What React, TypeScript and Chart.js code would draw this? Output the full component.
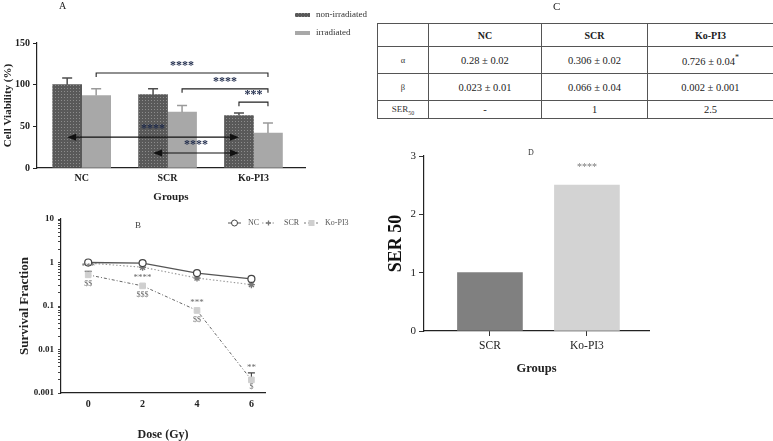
import React, { useEffect, useRef } from 'react';
import { Chart, registerables } from 'chart.js';

Chart.register(...registerables);

const FONT = "'Liberation Serif', 'Times New Roman', serif";

// ---------- Panel A : cell viability ----------
const groupsA = ['NC', 'SCR', 'Ko-PI3'];
const nonIrradiated = [100, 88, 63];
const nonIrradiatedSD = [8, 7, 3];
const irradiated = [87, 67, 42];
const irradiatedSD = [8, 8, 12];
const viabilityTicks = [0, 50, 100, 150];
const legendA = ['non-irradiated', 'irradiated'];

// significance brackets: [dataset, category] endpoints, level in %
const bracketsA = [
  { from: [1, 0], to: [1, 2], level: 114, label: '****' },
  { from: [1, 1], to: [1, 2], level: 95, label: '****' },
  { from: [0, 2], to: [1, 2], level: 79, label: '***' },
];
const arrowsA = [
  { from: [0, 0], to: [0, 2], level: 37, label: '****' },
  { from: [0, 1], to: [0, 2], level: 18, label: '****' },
];

// ---------- Panel B : survival fraction ----------
const doses = [0, 2, 4, 6];
const sfNC = [1.0, 0.97, 0.57, 0.42];
const sfSCR = [0.97, 0.78, 0.44, 0.31];
const sfKo = [0.52, 0.29, 0.079, 0.002];
const sfKoUpper = [0.63, null, null, 0.0029];
const koStars = ['***', '****', '***', '**'];
const koDollars = ['$$', '$$$', '$$', '$'];
const survivalTicks = [0.001, 0.01, 0.1, 1, 10];
const survivalTickLabels = ['0.001', '0.01', '0.1', '1', '10'];
const legendB = ['NC', 'SCR', 'Ko-PI3'];

// ---------- Panel C : table ----------
const tableHeaders = ['NC', 'SCR', 'Ko-PI3'];
const alphaValues = ['0.28 ± 0.02', '0.306 ± 0.02', '0.726 ± 0.04'];
const betaValues = ['0.023 ± 0.01', '0.066 ± 0.04', '0.002 ± 0.001'];
const serTableValues = ['-', '1', '2.5'];

// ---------- Panel D : SER 50 ----------
const serGroups = ['SCR', 'Ko-PI3'];
const ser50 = [1, 2.5];
const serTicks = [0, 1, 2, 3];
const serStars = ['', '****'];

function makePattern(ctx: CanvasRenderingContext2D) {
  const pc = document.createElement('canvas');
  pc.width = 3;
  pc.height = 3;
  const g = pc.getContext('2d')!;
  g.fillStyle = '#595959';
  g.fillRect(0, 0, 3, 3);
  g.fillStyle = '#8c8c8c';
  g.fillRect(1, 1, 1, 1);
  return ctx.createPattern(pc, 'repeat')!;
}

export default function App() {
  const refA = useRef<HTMLCanvasElement>(null);
  const refB = useRef<HTMLCanvasElement>(null);
  const refD = useRef<HTMLCanvasElement>(null);

  useEffect(() => {
    const charts: Chart[] = [];
    const ctxA = refA.current!.getContext('2d')!;
    const pattern = makePattern(ctxA);

    // ----- Panel A -----
    const annotA = {
      id: 'annotA',
      afterDatasetsDraw(chart: any) {
        const { ctx } = chart;
        const y = chart.scales.y;
        const bar = (d: number, i: number) => chart.getDatasetMeta(d).data[i];
        ctx.save();
        const series: [number[], number[], string][] = [
          [nonIrradiated, nonIrradiatedSD, '#4d4d4d'],
          [irradiated, irradiatedSD, '#9a9a9a'],
        ];
        series.forEach(([m, sd, c], d) => {
          m.forEach((v, i) => {
            const el = bar(d, i);
            const yt = y.getPixelForValue(v + sd[i]);
            ctx.strokeStyle = c;
            ctx.lineWidth = 1.5;
            ctx.beginPath();
            ctx.moveTo(el.x, el.y);
            ctx.lineTo(el.x, yt);
            ctx.moveTo(el.x - 5, yt);
            ctx.lineTo(el.x + 5, yt);
            ctx.stroke();
          });
        });
        ctx.textAlign = 'center';
        ctx.textBaseline = 'middle';
        bracketsA.forEach((b) => {
          const x1 = bar(b.from[0], b.from[1]).x;
          const x2 = bar(b.to[0], b.to[1]).x;
          const yy = y.getPixelForValue(b.level);
          ctx.strokeStyle = '#222';
          ctx.lineWidth = 1.1;
          ctx.beginPath();
          ctx.moveTo(x1, yy + 4);
          ctx.lineTo(x1, yy);
          ctx.lineTo(x2, yy);
          ctx.lineTo(x2, yy + 4);
          ctx.stroke();
          ctx.fillStyle = '#1e2a4a';
          ctx.font = `bold 12px ${FONT}`;
          ctx.fillText(b.label, (x1 + x2) / 2, yy - 7);
        });
        arrowsA.forEach((a) => {
          const x1 = bar(a.from[0], a.from[1]).x;
          const x2 = bar(a.to[0], a.to[1]).x;
          const yy = y.getPixelForValue(a.level);
          ctx.strokeStyle = '#111';
          ctx.fillStyle = '#111';
          ctx.lineWidth = 1.2;
          ctx.beginPath();
          ctx.moveTo(x1 + 4, yy);
          ctx.lineTo(x2 - 4, yy);
          ctx.stroke();
          ctx.beginPath();
          ctx.moveTo(x1, yy);
          ctx.lineTo(x1 + 9, yy - 3.5);
          ctx.lineTo(x1 + 9, yy + 3.5);
          ctx.closePath();
          ctx.fill();
          ctx.beginPath();
          ctx.moveTo(x2, yy);
          ctx.lineTo(x2 - 9, yy - 3.5);
          ctx.lineTo(x2 - 9, yy + 3.5);
          ctx.closePath();
          ctx.fill();
          ctx.fillStyle = '#1e2a4a';
          ctx.font = `bold 12px ${FONT}`;
          ctx.fillText(a.label, (x1 + x2) / 2, yy - 8);
        });
        // legend
        const swatches = [pattern, '#a8a8a8'];
        legendA.forEach((t, i) => {
          const ly = 15 + i * 18;
          ctx.fillStyle = swatches[i];
          ctx.fillRect(295, ly - 2, 15, 4);
          ctx.fillStyle = '#333';
          ctx.font = `9px ${FONT}`;
          ctx.textAlign = 'left';
          ctx.fillText(t, 316, ly);
        });
        ctx.restore();
      },
    };

    charts.push(
      new Chart(refA.current!, {
        type: 'bar',
        data: {
          datasets: [
            {
              label: legendA[0],
              data: nonIrradiated.map((v, i) => ({ x: i, y: v })),
              backgroundColor: pattern,
              barThickness: 29,
            },
            {
              label: legendA[1],
              data: irradiated.map((v, i) => ({ x: i, y: v })),
              backgroundColor: '#a8a8a8',
              barThickness: 29,
            },
          ],
        },
        options: {
          responsive: false,
          animation: false,
          layout: { padding: { top: 43, right: 65, left: 0, bottom: 0 } },
          plugins: { legend: { display: false }, tooltip: { enabled: false } },
          scales: {
            x: {
              type: 'linear',
              offset: false,
              min: -0.52,
              max: 2.6,
              afterBuildTicks: (s: any) => {
                s.ticks = groupsA.map((_, i) => ({ value: i }));
              },
              afterFit: (s: any) => {
                s.height = 42;
              },
              grid: { display: false, drawTicks: false, offset: false },
              border: { display: true, color: '#222', width: 1.2 },
              ticks: {
                callback: (v: any) => groupsA[v],
                font: { family: FONT, size: 10, weight: 'bold' },
                color: '#222',
                padding: 4,
                maxRotation: 0,
                autoSkip: false,
              },
              title: {
                display: true,
                text: 'Groups',
                font: { family: FONT, size: 11, weight: 'bold' },
                color: '#222',
                padding: { top: 0, bottom: 6 },
              },
            },
            y: {
              min: 0,
              max: 150,
              afterBuildTicks: (s: any) => {
                s.ticks = viabilityTicks.map((v) => ({ value: v }));
              },
              afterFit: (s: any) => {
                s.width = 37;
              },
              grid: { drawOnChartArea: false, drawTicks: true, tickLength: 4, color: '#222' },
              border: { color: '#222', width: 1.2 },
              ticks: { font: { family: FONT, size: 10, weight: 'bold' }, color: '#222', padding: 3 },
              title: {
                display: true,
                text: 'Cell Viability (%)',
                font: { family: FONT, size: 11, weight: 'bold' },
                color: '#222',
                padding: { top: 2, bottom: 0 },
              },
            },
          },
        },
        plugins: [annotA],
      } as any)
    );

    // ----- Panel B -----
    const annotB = {
      id: 'annotB',
      beforeDatasetsDraw(chart: any) {
        const { ctx } = chart;
        const y = chart.scales.y;
        const meta = chart.getDatasetMeta(2);
        ctx.save();
        ctx.strokeStyle = '#444';
        ctx.lineWidth = 1.1;
        sfKoUpper.forEach((u, i) => {
          if (u == null) return;
          const p = meta.data[i];
          const yt = y.getPixelForValue(u);
          ctx.beginPath();
          ctx.moveTo(p.x, p.y);
          ctx.lineTo(p.x, yt);
          ctx.moveTo(p.x - 3.5, yt);
          ctx.lineTo(p.x + 3.5, yt);
          ctx.stroke();
        });
        ctx.restore();
      },
      afterDatasetsDraw(chart: any) {
        const { ctx } = chart;
        const meta = chart.getDatasetMeta(2);
        ctx.save();
        ctx.textAlign = 'center';
        ctx.textBaseline = 'middle';
        ctx.fillStyle = '#6a6a6a';
        meta.data.forEach((p: any, i: number) => {
          ctx.font = `9px ${FONT}`;
          ctx.fillText(koStars[i], p.x, p.y - (i === 3 ? 12 : 8));
          ctx.font = `8px ${FONT}`;
          ctx.fillText(koDollars[i], p.x, p.y + (i === 3 ? 7 : 9));
        });
        // legend
        const ly = 18;
        const items = [
          { x1: 228, x2: 241, text: 248 },
          { x1: 262, x2: 275, text: 284 },
          { x1: 304, x2: 319, text: 325 },
        ];
        items.forEach((it, i) => {
          const mx = (it.x1 + it.x2) / 2;
          ctx.lineWidth = 1;
          if (i === 0) {
            ctx.strokeStyle = '#555';
            ctx.setLineDash([]);
          } else if (i === 1) {
            ctx.strokeStyle = '#999';
            ctx.setLineDash([1.5, 2]);
          } else {
            ctx.strokeStyle = '#777';
            ctx.setLineDash([2, 2]);
          }
          ctx.beginPath();
          ctx.moveTo(it.x1, ly);
          ctx.lineTo(it.x2, ly);
          ctx.stroke();
          ctx.setLineDash([]);
          if (i === 0) {
            ctx.fillStyle = '#fff';
            ctx.strokeStyle = '#444';
            ctx.beginPath();
            ctx.arc(mx, ly, 3, 0, Math.PI * 2);
            ctx.fill();
            ctx.stroke();
          } else if (i === 1) {
            ctx.strokeStyle = '#777';
            ctx.lineWidth = 1.3;
            ctx.beginPath();
            ctx.moveTo(mx - 2.5, ly);
            ctx.lineTo(mx + 2.5, ly);
            ctx.moveTo(mx, ly - 2.5);
            ctx.lineTo(mx, ly + 2.5);
            ctx.stroke();
          } else {
            ctx.fillStyle = '#cfcfcf';
            ctx.fillRect(mx - 3, ly - 3, 6, 6);
          }
          ctx.fillStyle = '#555';
          ctx.font = `8px ${FONT}`;
          ctx.textAlign = 'left';
          ctx.fillText(legendB[i], it.text, ly);
        });
        ctx.restore();
      },
    };

    charts.push(
      new Chart(refB.current!, {
        type: 'line',
        data: {
          datasets: [
            {
              label: legendB[0],
              data: doses.map((d, i) => ({ x: d, y: sfNC[i] })),
              borderColor: '#555',
              borderWidth: 1.3,
              pointStyle: 'circle',
              pointRadius: 3.5,
              pointBackgroundColor: '#fff',
              pointBorderColor: '#444',
              pointBorderWidth: 1.2,
            },
            {
              label: legendB[1],
              data: doses.map((d, i) => ({ x: d, y: sfSCR[i] })),
              borderColor: '#9a9a9a',
              borderDash: [1.5, 2],
              borderWidth: 1.1,
              pointStyle: 'star',
              pointRadius: 3.5,
              pointBorderColor: '#777',
              pointBackgroundColor: '#777',
              pointBorderWidth: 1.4,
            },
            {
              label: legendB[2],
              data: doses.map((d, i) => ({ x: d, y: sfKo[i] })),
              borderColor: '#666',
              borderDash: [3, 2, 1, 2],
              borderWidth: 1,
              pointStyle: 'rect',
              pointRadius: 4,
              pointBackgroundColor: '#cfcfcf',
              pointBorderColor: '#cfcfcf',
            },
          ],
        },
        options: {
          responsive: false,
          animation: false,
          layout: { padding: { top: 14, right: 105, left: 0, bottom: 0 } },
          plugins: { legend: { display: false }, tooltip: { enabled: false } },
          scales: {
            x: {
              type: 'linear',
              min: -1,
              max: 6.5,
              afterBuildTicks: (s: any) => {
                s.ticks = doses.map((v) => ({ value: v }));
              },
              afterFit: (s: any) => {
                s.height = 48;
              },
              grid: { display: false, drawTicks: false },
              border: { display: true, color: '#222', width: 1.2 },
              ticks: {
                callback: (v: any) => String(v),
                font: { family: FONT, size: 10, weight: 'bold' },
                color: '#222',
                padding: 5,
                maxRotation: 0,
                autoSkip: false,
              },
              title: {
                display: true,
                text: 'Dose (Gy)',
                font: { family: FONT, size: 12, weight: 'bold', lineHeight: 1 },
                color: '#222',
                padding: { top: 0, bottom: 0 },
              },
            },
            y: {
              type: 'logarithmic',
              min: 0.001,
              max: 10,
              afterBuildTicks: (s: any) => {
                const t: { value: number }[] = [];
                for (let k = 0; k < survivalTicks.length - 1; k++) {
                  for (let m = 1; m <= 9; m++) t.push({ value: survivalTicks[k] * m });
                }
                t.push({ value: survivalTicks[survivalTicks.length - 1] });
                s.ticks = t;
              },
              afterFit: (s: any) => {
                s.width = 61;
              },
              grid: { drawOnChartArea: false, drawTicks: true, tickLength: 3, color: '#444' },
              border: { color: '#222', width: 1.2 },
              ticks: {
                autoSkip: false,
                callback: (v: any) => {
                  const k = survivalTicks.findIndex((t) => Math.abs(t - v) / t < 1e-6);
                  return k >= 0 ? survivalTickLabels[k] : '';
                },
                font: { family: FONT, size: 9, weight: 'bold' },
                color: '#222',
                padding: 4,
              },
              title: {
                display: true,
                text: 'Survival Fraction',
                font: { family: FONT, size: 13, weight: 'bold' },
                color: '#222',
                padding: { top: 17, bottom: 0 },
              },
            },
          },
        },
        plugins: [annotB],
      } as any)
    );

    // ----- Panel D -----
    const annotD = {
      id: 'annotD',
      afterDatasetsDraw(chart: any) {
        const { ctx } = chart;
        const meta = chart.getDatasetMeta(0);
        ctx.save();
        ctx.fillStyle = '#777';
        ctx.font = `10px ${FONT}`;
        ctx.textAlign = 'center';
        ctx.textBaseline = 'middle';
        meta.data.forEach((el: any, i: number) => {
          if (serStars[i]) ctx.fillText(serStars[i], el.x, el.y - 18);
        });
        ctx.restore();
      },
    };

    charts.push(
      new Chart(refD.current!, {
        type: 'bar',
        data: {
          datasets: [
            {
              data: ser50.map((v, i) => ({ x: i, y: v })),
              backgroundColor: ['#808080', '#d3d3d3'],
              barThickness: 65,
            },
          ],
        },
        options: {
          responsive: false,
          animation: false,
          layout: { padding: { top: 16, right: 124, left: 0, bottom: 0 } },
          plugins: { legend: { display: false }, tooltip: { enabled: false } },
          scales: {
            x: {
              type: 'linear',
              offset: false,
              min: -0.68,
              max: 1.64,
              afterBuildTicks: (s: any) => {
                s.ticks = serGroups.map((_, i) => ({ value: i }));
              },
              afterFit: (s: any) => {
                s.height = 49;
              },
              grid: { drawOnChartArea: false, drawTicks: true, tickLength: 5, color: '#333', offset: false },
              border: { color: '#222', width: 1.2 },
              ticks: {
                callback: (v: any) => serGroups[v],
                font: { family: FONT, size: 11.5 },
                color: '#222',
                padding: 3,
                maxRotation: 0,
                autoSkip: false,
              },
              title: {
                display: true,
                text: 'Groups',
                font: { family: FONT, size: 12.5, weight: 'bold' },
                color: '#222',
                padding: { top: 0, bottom: 3.5 },
              },
            },
            y: {
              min: 0,
              max: 3,
              afterBuildTicks: (s: any) => {
                s.ticks = serTicks.map((v) => ({ value: v }));
              },
              afterFit: (s: any) => {
                s.width = 49;
              },
              grid: { drawOnChartArea: false, drawTicks: true, tickLength: 5, color: '#333' },
              border: { color: '#222', width: 1.2 },
              ticks: { font: { family: FONT, size: 11 }, color: '#222', padding: 3 },
              title: {
                display: true,
                text: 'SER 50',
                font: { family: FONT, size: 18, weight: 'bold' },
                color: '#111',
                padding: { top: 11, bottom: 0 },
              },
            },
          },
        },
        plugins: [annotD],
      } as any)
    );

    return () => charts.forEach((c) => c.destroy());
  }, []);

  const cell: React.CSSProperties = {
    border: '1px solid #555',
    textAlign: 'center',
    padding: 0,
    fontSize: 10.5,
    verticalAlign: 'middle',
    color: '#222',
  };
  const headCell: React.CSSProperties = { ...cell, fontWeight: 'bold', fontSize: 10, height: 22 };
  const sideCell: React.CSSProperties = { ...cell, fontSize: 8.5, color: '#333' };

  return (
    <div
      style={{
        position: 'fixed',
        left: 0,
        top: 0,
        width: 773,
        height: 441,
        background: '#fff',
        overflow: 'hidden',
        fontFamily: FONT,
        color: '#222',
      }}
    >
      <canvas ref={refA} width={370} height={210} style={{ position: 'absolute', left: 0, top: 0, width: 370, height: 210 }} />
      <canvas ref={refB} width={370} height={236} style={{ position: 'absolute', left: 0, top: 205, width: 370, height: 236 }} />
      <canvas ref={refD} width={398} height={240} style={{ position: 'absolute', left: 375, top: 140, width: 398, height: 240 }} />

      <div style={{ position: 'absolute', left: 59, top: 0, fontSize: 10, lineHeight: '12px' }}>A</div>
      <div style={{ position: 'absolute', left: 135, top: 220, fontSize: 9, lineHeight: '11px', color: '#444' }}>B</div>
      <div style={{ position: 'absolute', left: 553, top: 0, fontSize: 11, lineHeight: '13px' }}>C</div>
      <div style={{ position: 'absolute', left: 528, top: 148, fontSize: 8, lineHeight: '10px', color: '#333' }}>D</div>

      <table
        style={{
          position: 'absolute',
          left: 377,
          top: 23,
          width: 396,
          borderCollapse: 'collapse',
          tableLayout: 'fixed',
          fontFamily: FONT,
          color: '#222',
        }}
      >
        <colgroup>
          <col style={{ width: 51 }} />
          <col style={{ width: 113 }} />
          <col style={{ width: 106 }} />
          <col style={{ width: 126 }} />
        </colgroup>
        <tbody>
          <tr>
            <td style={headCell}></td>
            {tableHeaders.map((h) => (
              <td key={h} style={headCell}>
                {h}
              </td>
            ))}
          </tr>
          <tr>
            <td style={{ ...sideCell, height: 26 }}>α</td>
            {alphaValues.map((v, i) => (
              <td key={i} style={{ ...cell, height: 26 }}>
                {v}
                {i === 2 ? <sup style={{ fontSize: 8 }}>*</sup> : null}
              </td>
            ))}
          </tr>
          <tr>
            <td style={{ ...sideCell, height: 26 }}>β</td>
            {betaValues.map((v, i) => (
              <td key={i} style={{ ...cell, height: 26 }}>
                {v}
              </td>
            ))}
          </tr>
          <tr>
            <td style={{ ...sideCell, fontSize: 9, height: 17 }}>
              SER<sub style={{ fontSize: 6 }}>50</sub>
            </td>
            {serTableValues.map((v, i) => (
              <td key={i} style={{ ...cell, height: 17 }}>
                {v}
              </td>
            ))}
          </tr>
        </tbody>
      </table>
    </div>
  );
}
